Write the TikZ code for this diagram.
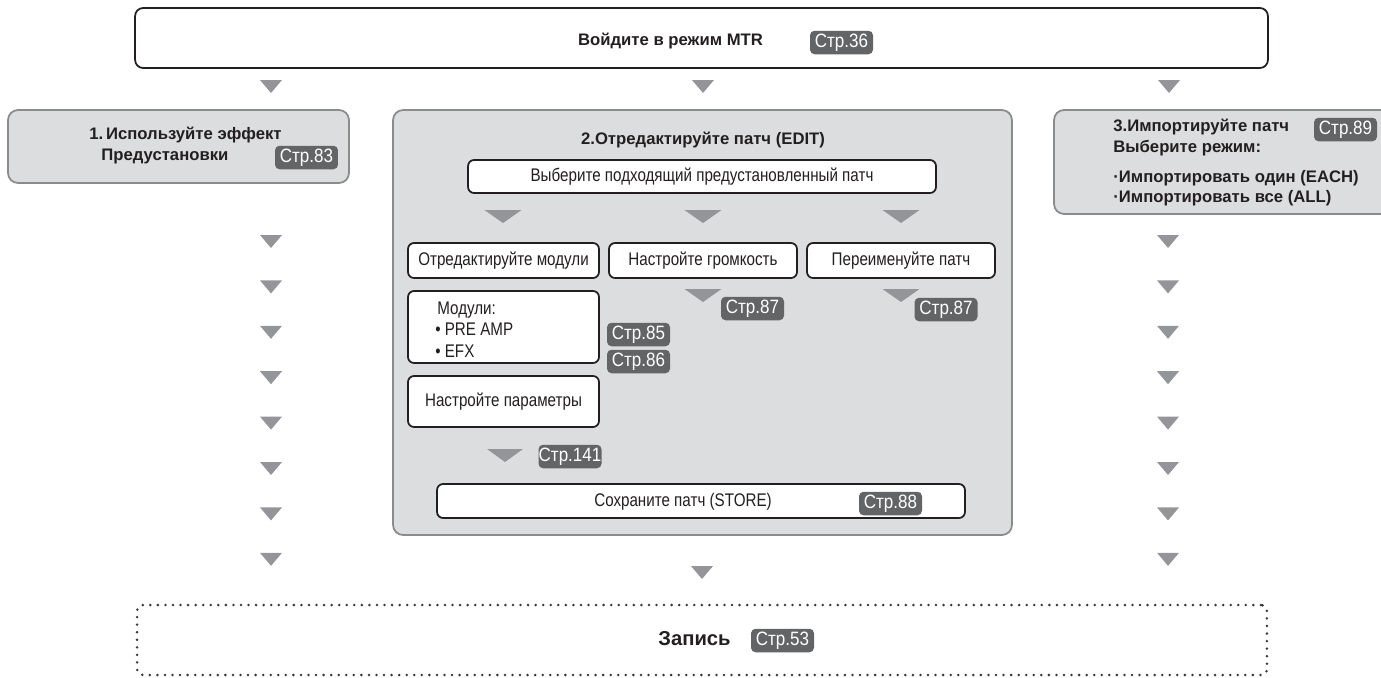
\documentclass[tikz,border=0pt]{standalone}
\usepackage{fontspec}
\setmainfont{Liberation Sans}
\newfontfamily\narrowfont{Liberation Sans}[FakeStretch=0.83]
\newfontfamily\badgefont{Liberation Sans}[FakeStretch=0.88]

\definecolor{inkc}{HTML}{231F20}
\definecolor{greyfill}{HTML}{DCDDDE}
\definecolor{greyline}{HTML}{8A8B8D}
\definecolor{badgefill}{HTML}{636466}
\definecolor{trifill}{HTML}{939598}
\definecolor{dotc}{HTML}{3A3A3A}

% downward triangle: centre x, top y, half width, height
\newcommand{\downtri}[4]{\fill[trifill] (#1-#3,#2) -- (#1+#3,#2) -- (#1,#2+#4) -- cycle;}

\tikzset{
  whitebox/.style={draw=inkc, fill=white, line width=1pt, rounded corners=0.12cm, inner sep=0pt},
  greybox/.style={draw=greyline, fill=greyfill, line width=1pt, rounded corners=0.2cm, inner sep=0pt},
  badge/.style={fill=badgefill, text=white, rounded corners=0.09cm, minimum width=1.26cm,
    minimum height=0.47cm, inner sep=0pt, font=\badgefont\fontsize{11}{12}\selectfont},
  boldtxt/.style={text=inkc, inner sep=0pt, font=\fontsize{9.5}{11.4}\selectfont\bfseries},
  plaintxt/.style={text=inkc, font=\narrowfont\fontsize{10.4}{12}\selectfont},
}

\begin{document}
\begin{tikzpicture}[x=0.02cm, y=-0.02cm]
    \clip (0,0) rectangle (1381,677);

    % top
    \node[whitebox, rounded corners=0.16cm, minimum width=22.66cm, minimum height=1.2cm] (mtr) at (701.5,38) {};
    \node[boldtxt, anchor=base] (mtrtxt) at (670.5,45) {Войдите в режим MTR};
    \node[badge] (p36) at (841.5,42.5) {Стр.36};

    \downtri{271}{80}{11}{13}
    \downtri{703}{80}{11}{13}
    \downtri{1169}{80}{11}{13}

    % 1
    \node[greybox, minimum width=6.82cm, minimum height=1.46cm] (use) at (178.5,146.5) {};
    \node[boldtxt, anchor=base west] (usetxt) at (89,139) {1.\,Используйте эффект};
    \node[boldtxt, anchor=base west] (presettxt) at (101,160) {Предустановки};
    \node[badge] (p83) at (306.5,157.5) {Стр.83};

    % 2
    \node[greybox, minimum width=12.38cm, minimum height=8.5cm] (edit) at (702.5,322.5) {};
    \node[boldtxt, anchor=base] (edittxt) at (703,144) {2.Отредактируйте патч (EDIT)};
    \node[whitebox, plaintxt, minimum width=9.36cm, minimum height=0.66cm] (sel) at (702,176.5)
        {Выберите подходящий предустановленный патч};

    \downtri{503}{210}{18.5}{13}
    \downtri{703}{210}{18.5}{13}
    \downtri{901}{210}{18.5}{13}

    \node[whitebox, plaintxt, minimum width=3.82cm, minimum height=0.7cm] (modA) at (503.5,260.5) {Отредактируйте модули};
    \node[whitebox, plaintxt, minimum width=3.76cm, minimum height=0.7cm] (vol) at (703,260.5) {Настройте громкость};
    \node[whitebox, plaintxt, minimum width=3.76cm, minimum height=0.7cm] (ren) at (901,260.5) {Переименуйте патч};

    \downtri{703}{289}{18.5}{13}
    \downtri{901}{289}{18.5}{13}
    \node[badge] (p87a) at (752.5,308.5) {Стр.87};
    \node[badge] (p87b) at (946,309.5) {Стр.87};

    \node[whitebox, minimum width=3.82cm, minimum height=1.44cm] (mods) at (503.5,327) {};
    \node[plaintxt, anchor=base west, inner sep=0pt] (modtxt) at (437,314) {Модули:};
    \node[plaintxt, anchor=base west, inner sep=0pt] (pretxt) at (435,335) {• PRE AMP};
    \node[plaintxt, anchor=base west, inner sep=0pt] (efxtxt) at (435,357) {• EFX};
    \node[badge] (p85) at (638.5,334.5) {Стр.85};
    \node[badge] (p86) at (638.5,361.5) {Стр.86};

    \node[whitebox, plaintxt, minimum width=3.82cm, minimum height=1.02cm] (par) at (503.5,401.5) {Настройте параметры};

    \downtri{505}{449}{18}{13}
    \node[badge] (p141) at (570,456.5) {Стр.141};

    \node[whitebox, minimum width=10.56cm, minimum height=0.68cm] (store) at (701,501) {};
    \node[plaintxt, anchor=base, inner sep=0pt] (storetxt) at (683,506) {Сохраните патч (STORE)};
    \node[badge] (p88) at (890.5,503.5) {Стр.88};

    % 3
    \node[greybox, minimum width=6.92cm, minimum height=2.08cm] (imp) at (1227,162) {};
    \node[boldtxt, anchor=base west] (imptxt) at (1113,131) {3.Импортируйте патч};
    \node[boldtxt, anchor=base west] (modetxt) at (1113,152) {Выберите режим:};
    \node[boldtxt, anchor=base west] (eachtxt) at (1113,182) {·Импортировать один (EACH)};
    \node[boldtxt, anchor=base west] (alltxt) at (1113,202) {·Импортировать все (ALL)};
    \node[badge] (p89) at (1345.5,129.5) {Стр.89};

    % columns
    \foreach \k in {0,...,7} {
        \downtri{271}{235+45.4*\k}{11}{13}
        \downtri{1168}{235+45.4*\k}{11}{13}
    }
    \downtri{702}{566}{11}{13}

    % bottom
    \node[draw=dotc, line width=1.6pt, dash pattern=on 0pt off 4.3pt, line cap=round,
        rounded corners=0.12cm, minimum width=22.6cm, minimum height=1.4cm] (rec) at (702,640) {};
    \node[text=inkc, inner sep=0pt, anchor=base, font=\fontsize{11.5}{13}\selectfont\bfseries] (rectxt) at (694.5,645) {Запись};
    \node[badge] (p53) at (782.5,640.5) {Стр.53};
\end{tikzpicture}
\end{document}
